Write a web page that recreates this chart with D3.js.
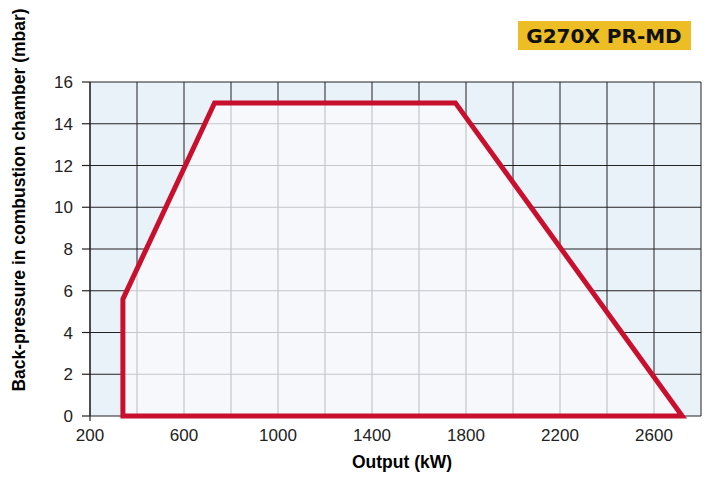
<!DOCTYPE html>
<html>
<head>
<meta charset="utf-8">
<script src="https://d3js.org/d3.v7.min.js"></script>
<style>
  body { margin: 0; background: #fff; }
  text { font-family: "Liberation Sans", Arial, sans-serif; }
</style>
</head>
<body>
<div id="chart"></div>
<script>
// operating range envelope (kW, mbar)
const outputKW = [340, 340, 730, 1755, 2720];
const backPressure = [0, 5.6, 15, 15, 0];
const xTicks = [200, 600, 1000, 1400, 1800, 2200, 2600];
const yTicks = [0, 2, 4, 6, 8, 10, 12, 14, 16];
const modelName = "G270X PR-MD";

const width = 722, height = 481;
const margin = { top: 82, right: 21, bottom: 65, left: 90 };

const svg = d3.select("#chart").append("svg")
    .attr("width", width)
    .attr("height", height);

const x = d3.scaleLinear().domain([200, 2800]).range([margin.left, width - margin.right]);
const y = d3.scaleLinear().domain([0, 16]).range([height - margin.bottom, margin.top]);

const gridX = d3.range(200, 2801, 200);
const gridY = d3.range(0, 17, 2);
const pts = outputKW.map((v, i) => [x(v), y(backPressure[i])]);

// outside area: light blue with dark grid
svg.append("rect")
    .attr("x", x(200)).attr("y", y(16))
    .attr("width", x(2800) - x(200)).attr("height", y(0) - y(16))
    .attr("fill", "#e9f1f9");

function drawGrid(g, color, w) {
    g.selectAll(".gx").data(gridX).join("line")
        .attr("x1", d => x(d)).attr("x2", d => x(d))
        .attr("y1", y(0)).attr("y2", y(16))
        .attr("stroke", color).attr("stroke-width", w);
    g.selectAll(".gy").data(gridY).join("line")
        .attr("x1", x(200)).attr("x2", x(2800))
        .attr("y1", d => y(d)).attr("y2", d => y(d))
        .attr("stroke", color).attr("stroke-width", w);
}
drawGrid(svg.append("g"), "#222", 1);

// inside the envelope: near white with grey grid
svg.append("clipPath").attr("id", "env")
    .append("polygon").attr("points", pts.map(p => p.join(",")).join(" "));

const inner = svg.append("g").attr("clip-path", "url(#env)");
inner.append("rect")
    .attr("x", x(200)).attr("y", y(16))
    .attr("width", x(2800) - x(200)).attr("height", y(0) - y(16))
    .attr("fill", "#f6f8fc");
drawGrid(inner, "#c4c6ca", 1.2);

// axis lines + outward ticks
svg.append("line").attr("x1", x(200)).attr("x2", x(200)).attr("y1", y(16)).attr("y2", y(0) + 5)
    .attr("stroke", "#222").attr("stroke-width", 1.2);
svg.selectAll(".yt").data(yTicks).join("line")
    .attr("x1", x(200) - 8).attr("x2", x(200))
    .attr("y1", d => y(d)).attr("y2", d => y(d))
    .attr("stroke", "#222").attr("stroke-width", 1.2);

svg.selectAll(".ylab").data(yTicks).join("text")
    .attr("x", x(200) - 17).attr("y", d => y(d) + 6)
    .attr("text-anchor", "end").attr("font-size", 17).attr("fill", "#222")
    .text(d => d);
svg.selectAll(".xlab").data(xTicks).join("text")
    .attr("x", d => x(d)).attr("y", y(0) + 25)
    .attr("text-anchor", "middle").attr("font-size", 17).attr("fill", "#222")
    .text(d => d);

// envelope outline
svg.append("path")
    .attr("d", d3.line()(pts) + "Z")
    .attr("fill", "none")
    .attr("stroke", "#c8102e")
    .attr("stroke-width", 5)
    .attr("stroke-linejoin", "miter");

// titles
svg.append("text")
    .attr("x", 402).attr("y", 468)
    .attr("text-anchor", "middle").attr("font-size", 17.5).attr("font-weight", "bold")
    .text("Output (kW)");
svg.append("text")
    .attr("transform", "translate(25, 200) rotate(-90)")
    .attr("text-anchor", "middle").attr("font-size", 17.5).attr("font-weight", "bold")
    .text("Back-pressure in combustion chamber (mbar)");

// model badge
svg.append("rect")
    .attr("x", 518).attr("y", 21).attr("width", 173).attr("height", 29)
    .attr("fill", "#ecbd24");
svg.append("text")
    .attr("x", 604).attr("y", 43)
    .attr("text-anchor", "middle").attr("font-size", 20).attr("font-weight", "bold")
    .attr("fill", "#111")
    .style("font-family", "'DejaVu Sans', sans-serif")
    .text(modelName);
</script>
</body>
</html>
